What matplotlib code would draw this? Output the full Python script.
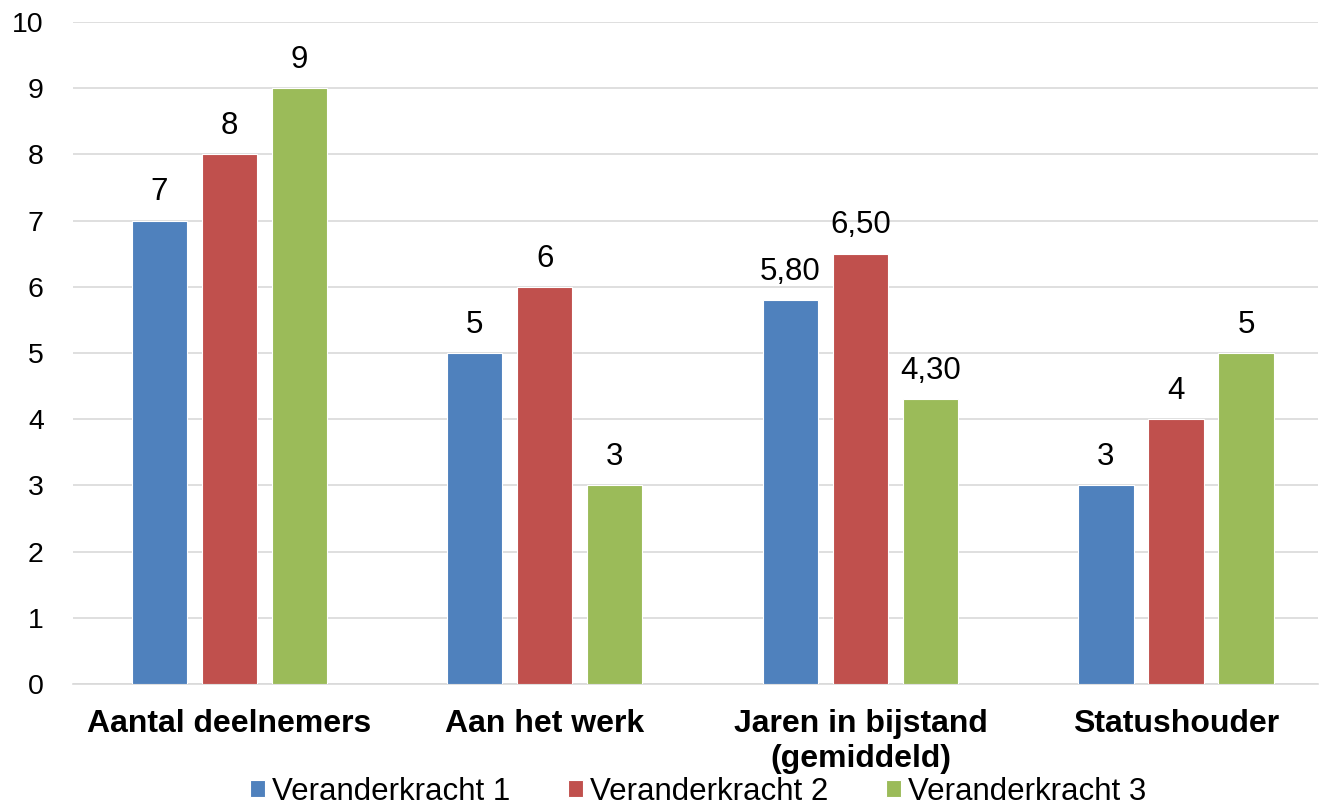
import numpy as np
import matplotlib.pyplot as plt

plt.rcParams['font.family'] = ['Liberation Sans', 'DejaVu Sans']

# data
categories = ["Aantal deelnemers", "Aan het werk",
              "Jaren in bijstand\n(gemiddeld)", "Statushouder"]
series_names = ["Veranderkracht 1", "Veranderkracht 2", "Veranderkracht 3"]
vk1 = [7, 5, 5.8, 3]
vk2 = [8, 6, 6.5, 4]
vk3 = [9, 3, 4.3, 5]
colors = ["#4F81BD", "#C0504D", "#9BBB59"]


def fmt(v):
    # whole numbers plain, decimals with a Dutch comma
    if float(v).is_integer():
        return f"{int(v)}"
    return f"{v:.2f}".replace('.', ',')


fig = plt.figure(figsize=(13.19, 8.06), dpi=100)
ax = fig.add_axes([73 / 1319, 122 / 806, (1318 - 73) / 1319, (684 - 22) / 806])

x = np.arange(len(categories))
width = 0.175
step = 0.222
for i, (vals, name, col) in enumerate(zip([vk1, vk2, vk3], series_names, colors)):
    pos = x + (i - 1) * step
    bars = ax.bar(pos, vals, width, color=col, label=name,
                  edgecolor='white', linewidth=0.8, zorder=3)
    for b, v in zip(bars, vals):
        ax.text(b.get_x() + b.get_width() / 2, v + 0.2, fmt(v),
                ha='center', va='bottom', fontsize=22.5, zorder=4)

ax.set_xlim(-0.495, 3.45)
ax.set_ylim(0, 10)
ax.set_yticks(range(0, 11))
ax.yaxis.grid(True, color='#D9D9D9', linewidth=1.2, zorder=0)
ax.set_axisbelow(True)
for s in ['top', 'right', 'left']:
    ax.spines[s].set_visible(False)
ax.spines['bottom'].set_color('#D9D9D9')
ax.spines['bottom'].set_linewidth(1.2)
ax.tick_params(axis='y', length=0, labelsize=20.5, pad=21)
ax.tick_params(axis='x', length=0, pad=18)
ax.set_xticks(x)
ax.set_xticklabels(categories, fontsize=23, fontweight='bold',
                   linespacing=1.2, va='top')

fig.legend(loc='lower center', ncol=3, bbox_to_anchor=(0.529, -0.024),
           frameon=False, fontsize=22.5, handlelength=0.5, handleheight=0.5,
           handletextpad=0.2, columnspacing=1.85, borderaxespad=0.2)

fig.savefig("out.png", dpi=100)
